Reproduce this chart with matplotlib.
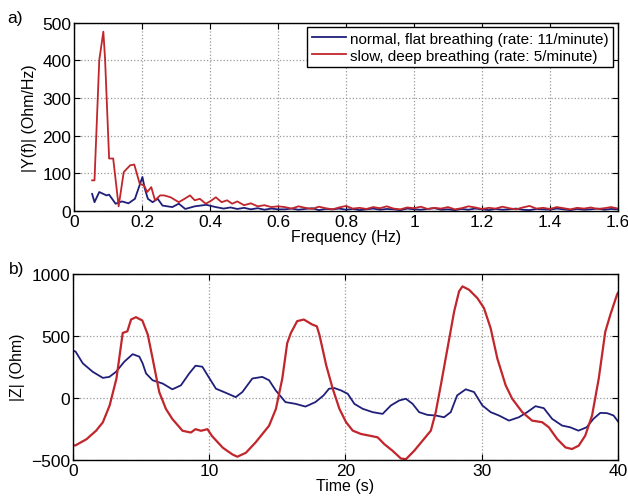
import matplotlib.pyplot as plt
import numpy as np

plt.rcParams['font.family'] = ['Liberation Sans', 'DejaVu Sans']

## spectrum data (a)
freq_normal = [0.053, 0.06, 0.074, 0.086, 0.095, 0.103, 0.122, 0.141, 0.16, 0.179,
               0.201, 0.208, 0.217, 0.231, 0.246, 0.26, 0.289, 0.308, 0.327, 0.355,
               0.389, 0.417, 0.44, 0.46, 0.48, 0.5, 0.52, 0.54, 0.56, 0.58, 0.6]
amp_normal = [45, 23, 50, 45, 41, 43, 19, 25, 20, 32,
              90, 59, 32, 23, 32, 14, 10, 19, 5, 12,
              16, 10, 6, 9, 5, 8, 4, 7, 3, 6, 4]

freq_slow = [0.053, 0.06, 0.074, 0.086, 0.091, 0.103, 0.115, 0.131, 0.146, 0.165,
             0.177, 0.193, 0.206, 0.215, 0.227, 0.238, 0.253, 0.265, 0.284, 0.308,
             0.325, 0.341, 0.355, 0.37, 0.387, 0.4, 0.417, 0.434, 0.45, 0.465,
             0.48, 0.5, 0.52, 0.54, 0.56, 0.58, 0.6]
amp_slow = [81, 81, 400, 476, 405, 139, 139, 12, 103, 121,
            123, 72, 67, 50, 63, 28, 41, 41, 36, 23,
            32, 41, 28, 32, 19, 25, 36, 23, 28, 19,
            25, 15, 20, 12, 15, 10, 12]

# high frequency tail (0.62 .. 1.6 Hz, 0.02 Hz bins)
freq_tail = [round(0.62 + 0.02 * i, 2) for i in range(50)]
tail_normal = [4, 6, 3, 5, 7, 2, 5, 4, 6, 3, 5, 2, 4, 6, 3, 5, 4, 2, 6, 4,
               3, 5, 7, 3, 4, 2, 5, 3, 6, 4, 2, 5, 3, 4, 6, 3, 2, 5, 4, 3,
               6, 4, 2, 5, 3, 4, 6, 3, 5, 4]
tail_slow = [10, 6, 12, 8, 5, 11, 7, 4, 9, 13, 6, 8, 5, 10, 7, 12, 6, 4, 9, 7,
             11, 5, 8, 6, 10, 4, 7, 12, 9, 5, 8, 6, 11, 7, 4, 9, 13, 6, 8, 5,
             10, 7, 4, 8, 6, 9, 5, 7, 10, 6]

## impedance time series (b)
t_normal = [0.0, 0.2, 0.73, 1.46, 2.2, 2.68, 3.17, 3.78, 4.39, 4.88, 5.12, 5.37, 5.85,
            6.6, 7.3, 7.93, 8.54, 9.0, 9.5, 9.88, 10.5, 11.2, 11.95, 12.44, 13.17,
            13.9, 14.4, 14.88, 15.6, 16.34, 17.07, 17.8, 18.4, 18.8, 19.2, 19.68,
            20.17, 20.66, 21.27, 22.0, 22.73, 23.34, 23.95, 24.44, 24.93, 25.41,
            26.02, 26.63, 27.24, 27.73, 28.2, 28.83, 29.44, 30.05, 30.66, 31.27,
            32.0, 32.73, 33.34, 33.95, 34.56, 35.17, 35.9, 36.5, 37.1, 37.7, 38.2,
            38.7, 39.2, 39.68, 40.0]
z_normal = [380, 372, 277, 209, 160, 168, 209, 291, 351, 331, 277, 196, 141,
            114, 68, 100, 196, 258, 250, 182, 73, 41, 5, 46, 155,
            168, 141, 60, -35, -49, -71, -35, 19, 73, 78, 59,
            32, -49, -89, -116, -130, -62, -22, -8, -49, -116,
            -138, -143, -157, -116, 19, 68, 46, -62, -116, -143,
            -184, -157, -116, -68, -84, -170, -224, -238, -265, -238, -170,
            -122, -124, -143, -190]

t_slow = [0.0, 0.2, 1.0, 1.7, 2.2, 2.7, 3.2, 3.66, 4.0, 4.27, 4.63, 5.1, 5.5, 5.85,
          6.34, 6.83, 7.3, 8.05, 8.66, 9.0, 9.4, 9.88, 10.2, 11.0, 11.7, 12.07,
          12.7, 13.4, 13.9, 14.4, 14.9, 15.37, 15.73, 16.0, 16.46, 16.95, 17.56,
          17.9, 18.1, 18.59, 19.07, 19.56, 20.05, 20.54, 21.15, 21.76, 22.37,
          22.85, 23.46, 24.07, 24.44, 25.05, 25.66, 26.27, 26.63, 27.0, 27.49,
          27.98, 28.34, 28.59, 29.07, 29.68, 30.17, 30.66, 31.15, 31.76, 32.24,
          32.98, 33.7, 34.44, 34.93, 35.54, 36.15, 36.63, 37.12, 37.6, 38.1,
          38.59, 39.07, 39.44, 39.93, 40.0]
z_slow = [-385, -383, -334, -266, -198, -62, 155, 522, 535, 630, 649, 622, 508, 318,
          46, -90, -171, -266, -280, -253, -266, -253, -307, -402, -456, -475,
          -443, -361, -293, -225, -90, 155, 440, 522, 617, 630, 590,
          576, 505, 262, 73, -89, -197, -265, -292, -305, -319,
          -373, -427, -489, -495, -427, -346, -265, -116, 100, 397,
          695, 857, 897, 870, 803, 722, 559, 316, 100, -8,
          -116, -184, -197, -238, -332, -400, -413, -386, -305, -143,
          154, 532, 668, 830, 845]

blue = '#1f1f7a'
red = '#c0262b'

fig = plt.figure(figsize=(6.28, 5.02), dpi=100)

def style_axes(ax):
    ax.grid(True, linestyle=':', color='#999999', linewidth=0.9)
    ax.tick_params(direction='in', top=True, right=True, labelsize=12.5, length=4, pad=2)
    for sp in ax.spines.values():
        sp.set_linewidth(1.0)

## (a) spectrum
ax1 = fig.add_axes([0.118, 0.578, 0.866, 0.375])
ax1.plot(freq_normal + freq_tail, amp_normal + tail_normal, color=blue, lw=1.3,
         label="normal, flat breathing (rate: 11/minute)")
ax1.plot(freq_slow + freq_tail, amp_slow + tail_slow, color=red, lw=1.3,
         label="slow, deep breathing (rate: 5/minute)")
ax1.set_xlim(0, 1.6)
ax1.set_ylim(0, 500)
ax1.set_xticks(np.arange(0, 1.61, 0.2))
ax1.set_xticklabels(["0", "0.2", "0.4", "0.6", "0.8", "1", "1.2", "1.4", "1.6"])
ax1.set_xlabel("Frequency (Hz)", fontsize=11.5, labelpad=0)
ax1.set_ylabel("|Y(f)| (Ohm/Hz)", fontsize=11.5)
style_axes(ax1)
leg = ax1.legend(loc='upper right', fontsize=11, fancybox=False, framealpha=1,
                 edgecolor='black', handlelength=2.2, borderpad=0.3,
                 labelspacing=0.2, handletextpad=0.3, borderaxespad=0.3)
leg.get_frame().set_linewidth(1.0)
fig.text(0.012, 0.955, "a)", fontsize=12.5)

## (b) impedance
ax2 = fig.add_axes([0.116, 0.082, 0.868, 0.371])
ax2.plot(t_normal, z_normal, color=blue, lw=1.3)
ax2.plot(t_slow, z_slow, color=red, lw=1.6)
ax2.set_xlim(0, 40)
ax2.set_ylim(-500, 1000)
ax2.set_xticks([0, 10, 20, 30, 40])
ax2.set_yticks([-500, 0, 500, 1000])
ax2.set_xlabel("Time (s)", fontsize=11.5, labelpad=0)
ax2.set_ylabel("|Z| (Ohm)", fontsize=11.5)
style_axes(ax2)
fig.text(0.014, 0.455, "b)", fontsize=12.5)

fig.savefig("out.png", dpi=100)
